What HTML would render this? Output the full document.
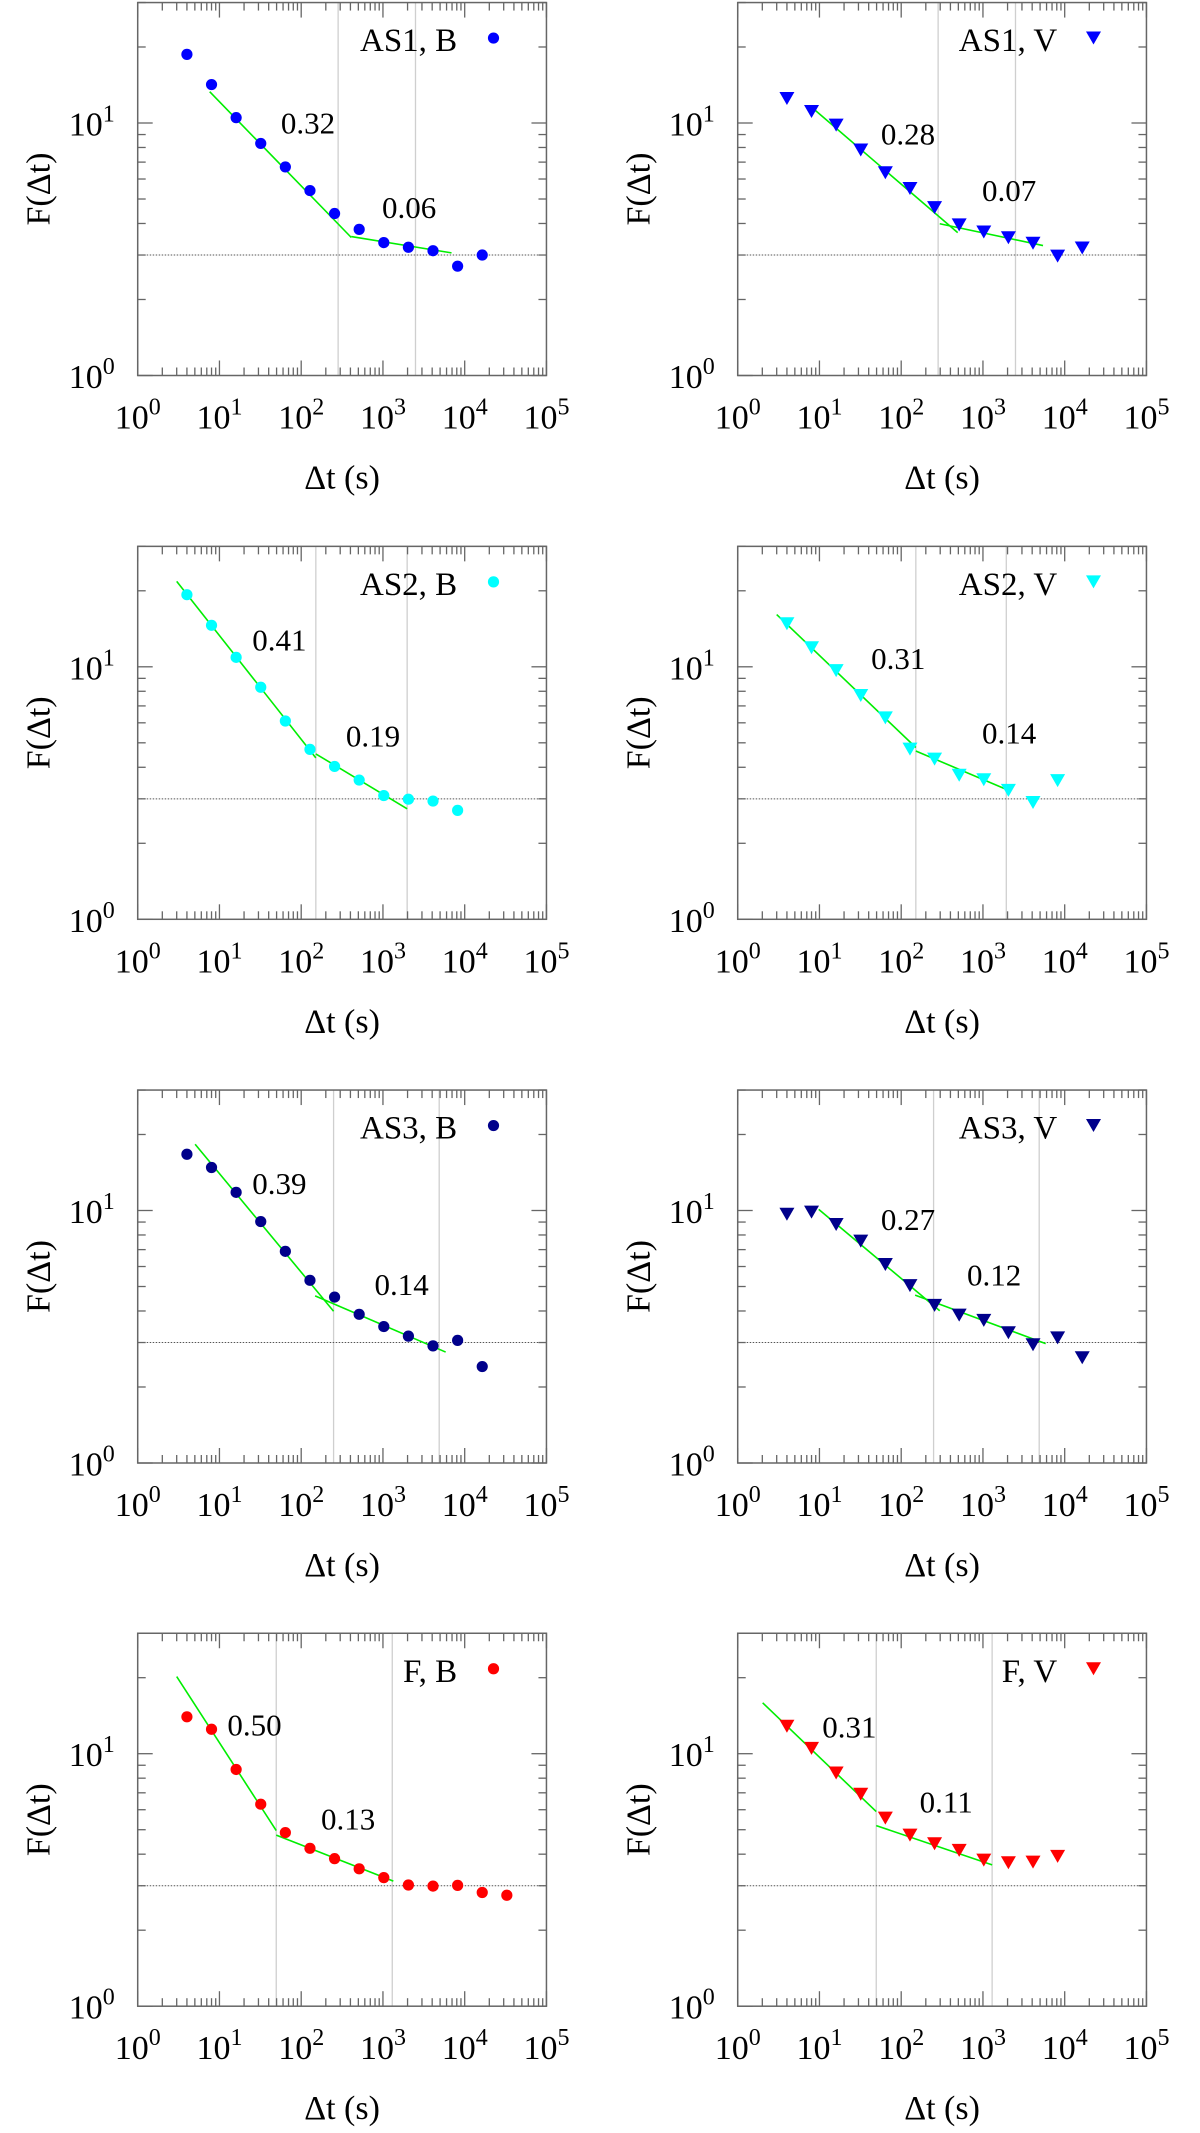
<!DOCTYPE html>
<html>
<head>
<meta charset="utf-8">
<style>
  html,body{margin:0;padding:0;background:#fff;}
  svg{display:block;font-family:"Liberation Serif","DejaVu Serif",serif;}
</style>
</head>
<body>
<svg id="fig" width="1200" height="2133" viewBox="0 0 1200 2133" xmlns="http://www.w3.org/2000/svg"></svg>
<script>
// ---------- data ----------
const dtAS1B = [4,8,16,32,64,128,256,512,1024,2048,4096,8192,16384];
const fAS1B  = [18.7,14.2,10.5,8.3,6.7,5.4,4.38,3.79,3.36,3.22,3.12,2.71,3.0];
const fitXAS1B = [7.6,410,410,6900];
const fitYAS1B = [13.3,3.52,3.55,3.06];
const breaksAS1B = [283,2500];
const slopesAS1B = ["0.32","0.06"];
const slopeXAS1B = [121,2090];
const slopeYAS1B = [9.1,4.2];

const dtAS1V = [4,8,16,32,64,128,256,512,1024,2048,4096,8192,16384];
const fAS1V  = [12.5,11.1,9.81,7.82,6.35,5.5,4.62,3.95,3.7,3.51,3.34,2.97,3.2];
const fitXAS1V = [7.9,491,296,5430];
const fitYAS1V = [11.6,3.68,3.99,3.27];
const breaksAS1V = [283,2500];
const slopesAS1V = ["0.28","0.07"];
const slopeXAS1V = [121,2090];
const slopeYAS1V = [8.21,4.92];

const dtAS2B = [4,8,16,32,64,128,256,512,1024,2048,4096,8192];
const fAS2B  = [19.3,14.6,10.9,8.3,6.1,4.71,4.03,3.56,3.09,2.99,2.94,2.7];
const fitXAS2B = [3.0,151,151,1977];
const fitYAS2B = [21.8,4.36,4.52,2.74];
const breaksAS2B = [151,1977];
const slopesAS2B = ["0.41","0.19"];
const slopeXAS2B = [54,755];
const slopeYAS2B = [11.6,4.84];

const dtAS2V = [4,8,16,32,64,128,256,512,1024,2048,4096,8192];
const fAS2V  = [14.8,11.9,9.66,7.7,6.28,4.72,4.31,3.72,3.57,3.24,2.9,3.54];
const fitXAS2V = [3.0,151,151,1930];
const fitYAS2V = [16.1,4.79,4.64,3.27];
const breaksAS2V = [151,1930];
const slopesAS2V = ["0.31","0.14"];
const slopeXAS2V = [92,2090];
const slopeYAS2V = [9.79,4.96];

const dtAS3B = [4,8,16,32,64,128,256,512,1024,2048,4096,8192,16384];
const fAS3B  = [16.7,14.8,11.8,9.04,6.89,5.29,4.54,3.88,3.47,3.18,2.91,3.06,2.41];
const fitXAS3B = [5.04,249,148,5850];
const fitYAS3B = [18.3,3.99,4.59,2.75];
const breaksAS3B = [249,4875];
const slopesAS3B = ["0.39","0.14"];
const slopeXAS3B = [54,1695];
const slopeYAS3B = [11.6,4.62];

const dtAS3V = [4,8,16,32,64,128,256,512,1024,2048,4096,8192,16384];
const fAS3V  = [9.66,9.85,8.8,7.56,6.11,5.04,4.21,3.85,3.67,3.28,2.94,3.13,2.61];
const fitXAS3V = [9.8,296,148,5850];
const fitYAS3V = [10.1,4.01,4.62,2.97];
const breaksAS3V = [249,4875];
const slopesAS3V = ["0.27","0.12"];
const slopeXAS3V = [121,1370];
const slopeYAS3V = [8.39,5.04];

const dtFB = [4,8,16,32,64,128,256,512,1024,2048,4096,8192,16384,32768];
const fFB  = [14.0,12.5,8.66,6.31,4.87,4.22,3.84,3.5,3.23,3.02,2.99,3.01,2.82,2.75];
const fitXFB = [3.0,49.5,49.5,1340];
const fitYFB = [20.2,4.96,4.76,3.13];
const breaksFB = [49.5,1300];
const slopesFB = ["0.50","0.13"];
const slopeXFB = [26.8,375];
const slopeYFB = [11.8,5.01];

const dtFV = [4,8,16,32,64,128,256,512,1024,2048,4096,8192];
const fFV  = [12.85,10.5,8.39,6.91,5.56,4.76,4.4,4.14,3.79,3.7,3.72,3.92];
const fitXFV = [2.02,49.5,49.5,1295];
const fitYFV = [15.9,5.9,5.19,3.63];
const breaksFV = [49.5,1295];
const slopesFV = ["0.31","0.11"];
const slopeXFV = [23.2,355];
const slopeYFV = [11.6,5.86];

const xTickExps = [0,1,2,3,4,5];
const yTickExps = [0,1];
const saturationLevel = 3;

// ---------- layout ----------
const NS = "http://www.w3.org/2000/svg";
const svg = document.getElementById('fig');
const DEC_X = 81.75, DEC_Y = 252.5, PW = 5*DEC_X, PH = 1.477*DEC_Y;
const LEFTS = [137.7, 737.7];
const BOTTOMS = [375.5, 919.3, 1463, 2006.2];

function mk(tag, attrs, parent){
  const e = document.createElementNS(NS, tag);
  for (const k in attrs) e.setAttribute(k, attrs[k]);
  (parent||svg).appendChild(e);
  return e;
}

const panels = [
  {id:'as1-b', col:0,row:0,color:'#0000ff',mk:'circle',label:'AS1, B',x:dtAS1B,y:fAS1B,fx:fitXAS1B,fy:fitYAS1B,br:breaksAS1B,sl:slopesAS1B,sx:slopeXAS1B,sy:slopeYAS1B},
  {id:'as1-v', col:1,row:0,color:'#0000ff',mk:'tri',label:'AS1, V',x:dtAS1V,y:fAS1V,fx:fitXAS1V,fy:fitYAS1V,br:breaksAS1V,sl:slopesAS1V,sx:slopeXAS1V,sy:slopeYAS1V},
  {id:'as2-b', col:0,row:1,color:'#00ffff',mk:'circle',label:'AS2, B',x:dtAS2B,y:fAS2B,fx:fitXAS2B,fy:fitYAS2B,br:breaksAS2B,sl:slopesAS2B,sx:slopeXAS2B,sy:slopeYAS2B},
  {id:'as2-v', col:1,row:1,color:'#00ffff',mk:'tri',label:'AS2, V',x:dtAS2V,y:fAS2V,fx:fitXAS2V,fy:fitYAS2V,br:breaksAS2V,sl:slopesAS2V,sx:slopeXAS2V,sy:slopeYAS2V},
  {id:'as3-b', col:0,row:2,color:'#00008b',mk:'circle',label:'AS3, B',x:dtAS3B,y:fAS3B,fx:fitXAS3B,fy:fitYAS3B,br:breaksAS3B,sl:slopesAS3B,sx:slopeXAS3B,sy:slopeYAS3B},
  {id:'as3-v', col:1,row:2,color:'#00008b',mk:'tri',label:'AS3, V',x:dtAS3V,y:fAS3V,fx:fitXAS3V,fy:fitYAS3V,br:breaksAS3V,sl:slopesAS3V,sx:slopeXAS3V,sy:slopeYAS3V},
  {id:'f-b', col:0,row:3,color:'#ff0000',mk:'circle',label:'F, B',x:dtFB,y:fFB,fx:fitXFB,fy:fitYFB,br:breaksFB,sl:slopesFB,sx:slopeXFB,sy:slopeYFB},
  {id:'f-v', col:1,row:3,color:'#ff0000',mk:'tri',label:'F, V',x:dtFV,y:fFV,fx:fitXFV,fy:fitYFV,br:breaksFV,sl:slopesFV,sx:slopeXFV,sy:slopeYFV}
];

function drawMarker(g, kind, cx, cy, color){
  let m;
  if (kind === 'circle') {
    m = mk('circle', {cx:cx, cy:cy, r:5.6, fill:color}, g);
  } else {
    const w = 7.5, h = 6.5;
    m = mk('polygon', {points:`${cx-w},${cy-h} ${cx+w},${cy-h} ${cx},${cy+h}`, fill:color}, g);
  }
  return m;
}

panels.forEach(p => {
  const L = LEFTS[p.col], B = BOTTOMS[p.row], T = B - PH, R = L + PW;
  const X = v => L + Math.log10(v)*DEC_X;
  const Y = v => B - Math.log10(v)*DEC_Y;
  const g = mk('g', {});
  
  

  // break lines
  p.br.forEach((b,i) => {
    const l = mk('line', {x1:X(b), x2:X(b), y1:T, y2:B, stroke:'#cfcfcf', 'stroke-width':1.3}, g);
    
    
  });
  // saturation dotted line
  const d = mk('line', {x1:L, x2:R, y1:Y(saturationLevel), y2:Y(saturationLevel), stroke:'#555', 'stroke-width':1, 'stroke-dasharray':'1.5,1.5'}, g);
  
  

  // ticks
  const tg = mk('g', {stroke:'#666', 'stroke-width':1.3}, g);
  
  
  for (let e = 0; e <= 5; e++) {
    for (let k = 1; k <= 9; k++) {
      const v = k * Math.pow(10, e);
      if (v > 1e5) break;
      const x = X(v), len = (k === 1) ? 15 : 8;
      mk('line', {x1:x, x2:x, y1:B, y2:B-len}, tg);
      mk('line', {x1:x, x2:x, y1:T, y2:T+len}, tg);
    }
  }
  [1,2,3,4,5,6,7,8,9,10,20,30].forEach(v => {
    const y = Y(v); if (y < T - 0.5) return;
    const len = (v === 1 || v === 10) ? 15 : 8;
    mk('line', {x1:L, x2:L+len, y1:y, y2:y}, tg);
    mk('line', {x1:R, x2:R-len, y1:y, y2:y}, tg);
  });

  // fit lines
  for (let s = 0; s < 2; s++) {
    const fl = mk('line', {x1:X(p.fx[2*s]), y1:Y(p.fy[2*s]), x2:X(p.fx[2*s+1]), y2:Y(p.fy[2*s+1]), stroke:'#00ee00', 'stroke-width':1.6}, g);
    
    
  }

  // data points
  p.x.forEach((xv, i) => {
    const m = drawMarker(g, p.mk, X(xv), Y(p.y[i]), p.color);
    
    
  });

  // slope labels
  p.sl.forEach((s, i) => {
    const t = mk('text', {x:X(p.sx[i]), y:Y(p.sy[i]), 'font-size':31, 'text-anchor':'middle', fill:'#000'}, g);
    t.textContent = s;
    
    
  });

  // frame
  const fr = mk('rect', {x:L, y:T, width:PW, height:PH, fill:'none', stroke:'#666', 'stroke-width':1.5}, g);
  
  

  // legend
  const lg = mk('g', {}, g);
  
  
  const lt = mk('text', {x:L+319.5, y:T+48.5, 'font-size':33, 'text-anchor':'end', fill:'#000'}, lg);
  lt.textContent = p.label;
  drawMarker(lg, p.mk, L+355.8, T+35.5, p.color);

  // x tick labels
  xTickExps.forEach(e => {
    const t = mk('text', {x:X(Math.pow(10,e)), y:B+53, 'font-size':34, 'text-anchor':'middle', fill:'#000'}, g);
    
    
    const a = mk('tspan', {}, t); a.textContent = '10';
    const b = mk('tspan', {dy:-14, 'font-size':24}, t); b.textContent = String(e);
  });
  // y tick labels
  yTickExps.forEach(e => {
    const t = mk('text', {x:L-23, y:Y(Math.pow(10,e))+12.5, 'font-size':34, 'text-anchor':'end', fill:'#000'}, g);
    
    
    const a = mk('tspan', {}, t); a.textContent = '10';
    const b = mk('tspan', {dy:-14, 'font-size':24}, t); b.textContent = String(e);
  });

  // axis titles
  const xt = mk('text', {x:(L+R)/2, y:B+113, 'font-size':34, 'text-anchor':'middle', fill:'#000'}, g);
  xt.textContent = 'Δt (s)';
  
  
  const yc = (T+B)/2, yx = L-88;
  const yt = mk('text', {x:yx, y:yc, 'font-size':34, 'text-anchor':'middle', fill:'#000', transform:`rotate(-90 ${yx} ${yc})`}, g);
  yt.textContent = 'F(Δt)';
  
  
});
</script>
</body>
</html>
